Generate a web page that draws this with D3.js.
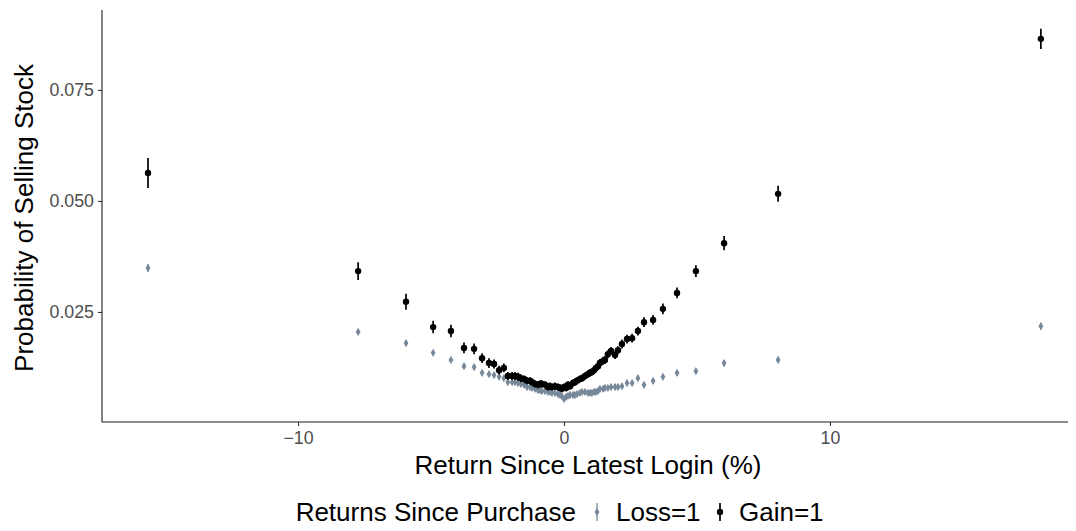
<!DOCTYPE html>
<html>
<head>
<meta charset="utf-8">
<script src="https://cdn.jsdelivr.net/npm/d3@7"></script>
<style>
  html, body { margin: 0; padding: 0; background: #ffffff; }
  svg { display: block; font-family: "Liberation Sans", Arial, sans-serif; }
</style>
</head>
<body>
<svg id="chart" width="1076" height="531"></svg>
<script>
// ---------------- data ----------------
const returnSinceLogin = [
  -15.64, -7.74, -5.94, -4.92, -4.25, -3.76, -3.38, -3.08, -2.82, -2.63,
  -2.44, -2.26, -2.11, -1.95, -1.84, -1.73, -1.62, -1.50, -1.39, -1.28,
  -1.20, -1.09, -0.98, -0.90, -0.83, -0.71, -0.60, -0.53, -0.45, -0.34,
  -0.23, -0.15, -0.08, 0.00, 0.08, 0.15, 0.23, 0.34, 0.41, 0.49,
  0.60, 0.68, 0.79, 0.90, 0.98, 1.05, 1.13, 1.20, 1.28, 1.35,
  1.47, 1.54, 1.65, 1.77, 1.92, 2.03, 2.18, 2.37, 2.56, 2.78,
  3.01, 3.35, 3.72, 4.25, 4.96, 6.02, 8.05, 17.93
];
const gainProb = [
  0.0563, 0.0342, 0.0273, 0.0216, 0.0207, 0.0169, 0.0167, 0.0146, 0.0135, 0.0133,
  0.0119, 0.0124, 0.0106, 0.0106, 0.0106, 0.0104, 0.0101, 0.0099, 0.0095, 0.0095,
  0.0092, 0.0088, 0.0086, 0.0088, 0.0088, 0.0086, 0.0081, 0.0083, 0.0081, 0.0083,
  0.0081, 0.0079, 0.0077, 0.0081, 0.0079, 0.0086, 0.0083, 0.0090, 0.0092, 0.0095,
  0.0099, 0.0101, 0.0106, 0.0110, 0.0113, 0.0115, 0.0119, 0.0124, 0.0128, 0.0135,
  0.0140, 0.0142, 0.0155, 0.0162, 0.0153, 0.0164, 0.0178, 0.0189, 0.0191, 0.0207,
  0.0227, 0.0232, 0.0257, 0.0293, 0.0342, 0.0405, 0.0516, 0.0865
];
const gainErr = [
  0.0034, 0.0020, 0.0018, 0.0014, 0.0014, 0.0012, 0.0012, 0.0011, 0.0011, 0.0010,
  0.0010, 0.0010, 0.0009, 0.0009, 0.0009, 0.0009, 0.0009, 0.0008, 0.0008, 0.0008,
  0.0008, 0.0008, 0.0008, 0.0008, 0.0008, 0.0008, 0.0008, 0.0008, 0.0008, 0.0008,
  0.0008, 0.0008, 0.0008, 0.0008, 0.0008, 0.0008, 0.0008, 0.0008, 0.0008, 0.0008,
  0.0008, 0.0008, 0.0008, 0.0008, 0.0008, 0.0008, 0.0008, 0.0008, 0.0008, 0.0009,
  0.0009, 0.0009, 0.0009, 0.0009, 0.0009, 0.0009, 0.0010, 0.0010, 0.0010, 0.0010,
  0.0011, 0.0011, 0.0012, 0.0012, 0.0013, 0.0016, 0.0018, 0.0023
];
const lossProb = [
  0.0349, 0.0205, 0.0180, 0.0158, 0.0142, 0.0128, 0.0126, 0.0113, 0.0110, 0.0108,
  0.0104, 0.0101, 0.0092, 0.0092, 0.0092, 0.0090, 0.0088, 0.0086, 0.0081, 0.0081,
  0.0079, 0.0077, 0.0074, 0.0074, 0.0072, 0.0072, 0.0070, 0.0070, 0.0068, 0.0068,
  0.0065, 0.0063, 0.0061, 0.0054, 0.0059, 0.0061, 0.0063, 0.0063, 0.0063, 0.0065,
  0.0068, 0.0070, 0.0070, 0.0068, 0.0068, 0.0068, 0.0070, 0.0070, 0.0072, 0.0077,
  0.0077, 0.0079, 0.0079, 0.0081, 0.0081, 0.0081, 0.0083, 0.0090, 0.0090, 0.0101,
  0.0086, 0.0095, 0.0104, 0.0113, 0.0117, 0.0135, 0.0142, 0.0218
];
const lossErr = [
  0.0009, 0.0007, 0.0007, 0.0006, 0.0006, 0.0006, 0.0006, 0.0006, 0.0006, 0.0006,
  0.0006, 0.0006, 0.0006, 0.0006, 0.0006, 0.0006, 0.0006, 0.0006, 0.0006, 0.0006,
  0.0006, 0.0006, 0.0006, 0.0006, 0.0006, 0.0006, 0.0006, 0.0006, 0.0006, 0.0006,
  0.0006, 0.0006, 0.0006, 0.0006, 0.0006, 0.0006, 0.0006, 0.0006, 0.0006, 0.0006,
  0.0006, 0.0006, 0.0006, 0.0006, 0.0006, 0.0006, 0.0006, 0.0006, 0.0006, 0.0006,
  0.0006, 0.0006, 0.0006, 0.0006, 0.0006, 0.0006, 0.0006, 0.0006, 0.0006, 0.0006,
  0.0006, 0.0006, 0.0006, 0.0006, 0.0006, 0.0007, 0.0007, 0.0008
];
const xTicks = [-10, 0, 10];
const yTicks = [0.025, 0.050, 0.075];
const seriesNames = ["Loss=1", "Gain=1"];
const legendTitle = "Returns Since Purchase";
const xTitle = "Return Since Latest Login (%)";
const yTitle = "Probability of Selling Stock";

// ---------------- layout ----------------
const svg = d3.select("#chart");
const M = { left: 102, right: 1068, top: 10, bottom: 422 };
const x = d3.scaleLinear().domain([-17.37, 18.95]).range([M.left, M.right]);
const y = d3.scaleLinear().domain([0.000225, 0.0930]).range([M.bottom, M.top]);

const colors = { "Loss=1": "#778899", "Gain=1": "#000000" };
const titleSize = "26px";

const series = [
  { name: "Loss=1", vals: lossProb, errs: lossErr },
  { name: "Gain=1", vals: gainProb, errs: gainErr }
];

// axes
const xAxis = svg.append("g")
  .attr("transform", `translate(0,${M.bottom})`)
  .call(d3.axisBottom(x).tickValues(xTicks).tickSize(4).tickPadding(5)
    .tickFormat(d => d < 0 ? "\u2212" + Math.abs(d) : String(d)));
const yAxis = svg.append("g")
  .attr("transform", `translate(${M.left},0)`)
  .call(d3.axisLeft(y).tickValues(yTicks).tickSize(4).tickPadding(4)
    .tickFormat(d3.format(".3f")));
[xAxis, yAxis].forEach(a => {
  a.select(".domain").attr("stroke", "#1a1a1a").attr("stroke-width", 1.1);
  a.selectAll(".tick line").attr("stroke", "#333333").attr("stroke-width", 1.1);
  a.selectAll(".tick text").attr("fill", "#4d4d4d")
    .style("font-size", "17.8px").style("font-family", "'Liberation Sans', Arial, sans-serif");
});
yAxis.select(".domain").attr("d", `M0,${M.bottom}V${M.top}`);
xAxis.select(".domain").attr("d", `M${M.left},0H${M.right}`);

// titles
svg.append("text")
  .attr("x", 588).attr("y", 474)
  .attr("text-anchor", "middle").style("font-size", titleSize).attr("fill", "#000")
  .text(xTitle);
svg.append("text")
  .attr("transform", `translate(33,${(M.top + M.bottom) / 2 + 2}) rotate(-90)`)
  .attr("text-anchor", "middle").style("font-size", titleSize).attr("fill", "#000")
  .text(yTitle);

// marks
const plot = svg.append("g");
series.forEach(s => {
  const g = plot.append("g");
  const pts = returnSinceLogin.map((xv, i) => ({ x: xv, v: s.vals[i], e: s.errs[i] }));
  g.selectAll("line").data(pts).join("line")
    .attr("x1", d => x(d.x)).attr("x2", d => x(d.x))
    .attr("y1", d => y(d.v - d.e)).attr("y2", d => y(d.v + d.e))
    .attr("stroke", colors[s.name])
    .attr("stroke-width", s.name === "Gain=1" ? 1.7 : 1.3);
  if (s.name === "Gain=1") {
    g.selectAll("circle").data(pts).join("circle")
      .attr("cx", d => x(d.x)).attr("cy", d => y(d.v)).attr("r", 3.2)
      .attr("fill", colors[s.name]);
  } else {
    g.selectAll("path.pt").data(pts).join("path").attr("class", "pt")
      .attr("d", d3.symbol().type(d3.symbolDiamond).size(20))
      .attr("transform", d => `translate(${x(d.x)},${y(d.v)})`)
      .attr("fill", colors[s.name]);
  }
});

// legend
const leg = svg.append("g").attr("transform", "translate(0,512)");
leg.append("text").attr("x", 576).attr("y", 9).attr("text-anchor", "end")
  .style("font-size", titleSize).attr("fill", "#000").text(legendTitle);
const legItems = [
  { name: seriesNames[0], gx: 597, tx: 616 },
  { name: seriesNames[1], gx: 720, tx: 739 }
];
legItems.forEach(it => {
  leg.append("line").attr("x1", it.gx).attr("x2", it.gx).attr("y1", -9).attr("y2", 9)
    .attr("stroke", colors[it.name]).attr("stroke-width", it.name === "Gain=1" ? 1.7 : 1.3);
  if (it.name === "Gain=1") {
    leg.append("circle").attr("cx", it.gx).attr("cy", 0).attr("r", 3.2).attr("fill", colors[it.name]);
  } else {
    leg.append("path").attr("d", d3.symbol().type(d3.symbolDiamond).size(20)())
      .attr("transform", `translate(${it.gx},0)`).attr("fill", colors[it.name]);
  }
  leg.append("text").attr("x", it.tx).attr("y", 9).style("font-size", titleSize)
    .attr("fill", "#000").text(it.name);
});
</script>
</body>
</html>
